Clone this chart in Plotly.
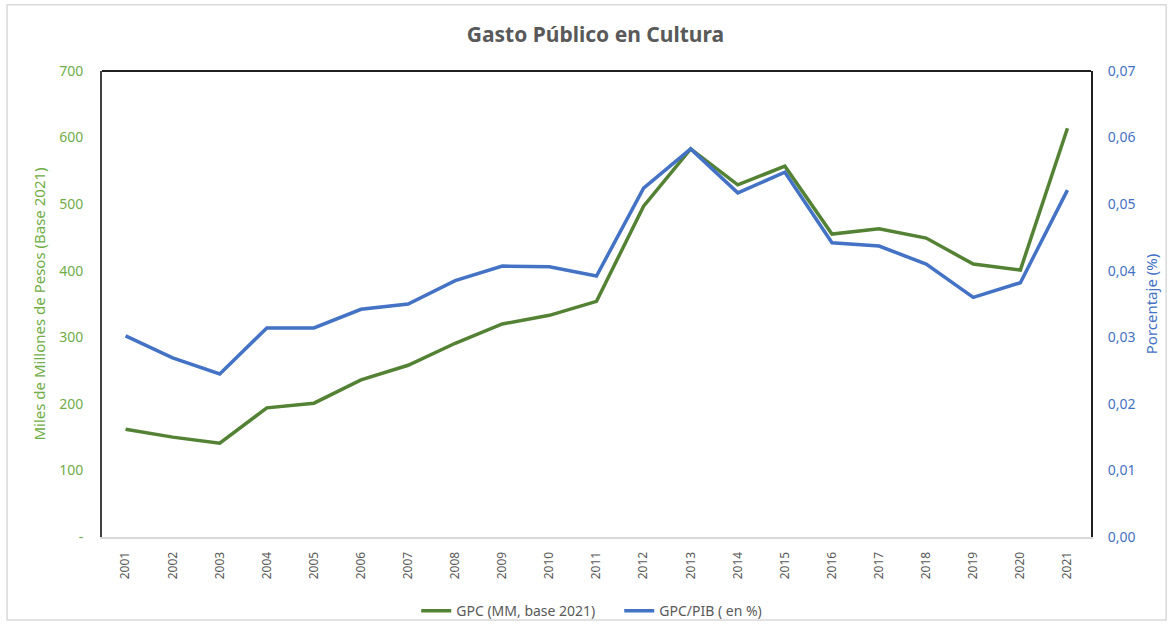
import plotly.graph_objects as go

# data
years = [str(y) for y in range(2001, 2022)]
gpc_mm = [162, 150, 141, 194, 201, 236, 258, 291, 320, 333, 354,
          497, 583, 529, 557, 455, 463, 449, 410, 401, 614]
gpc_pib = [0.0302, 0.0269, 0.0245, 0.0314, 0.0314, 0.0342, 0.0350, 0.0385, 0.0407, 0.0406, 0.0392,
           0.0524, 0.0583, 0.0517, 0.0548, 0.0442, 0.0437, 0.0410, 0.0360, 0.0382, 0.0521]

left_ticks = [0, 100, 200, 300, 400, 500, 600, 700]
left_labels = ["-", "100", "200", "300", "400", "500", "600", "700"]
right_ticks = [0, 0.01, 0.02, 0.03, 0.04, 0.05, 0.06, 0.07]
right_labels = ["0,00", "0,01", "0,02", "0,03", "0,04", "0,05", "0,06", "0,07"]

green_line = "#548235"
green_txt = "#70AD47"
blue_line = "#4472C4"
gray = "#595959"
font = "Noto Sans"
clear = "rgba(0,0,0,0)"

fig = go.Figure()
fig.add_trace(go.Scatter(x=years, y=gpc_mm, mode="lines", name="GPC (MM, base 2021)",
                         line=dict(color=green_line, width=3.5)))
fig.add_trace(go.Scatter(x=years, y=gpc_pib, mode="lines", name="GPC/PIB ( en %)",
                         line=dict(color=blue_line, width=3.5), yaxis="y2"))

fig.update_layout(
    width=1172, height=626,
    margin=dict(l=102, r=81, t=71, b=89, autoexpand=False),
    paper_bgcolor="white", plot_bgcolor="white",
    font=dict(family=font, color=gray, size=12),
    title=dict(text="<b>Gasto Público en Cultura</b>", x=0.508, xanchor="center",
               y=0.945, yanchor="middle", font=dict(size=21, color=gray)),
    xaxis=dict(type="category", range=[-0.5, 20.5], tickangle=-90, showgrid=False,
               ticks="outside", ticklen=8, tickcolor=clear, automargin=False,
               showline=True, linecolor="#d9d9d9", linewidth=2,
               tickfont=dict(size=12, color=gray)),
    yaxis=dict(range=[0, 700], tickvals=left_ticks, ticktext=left_labels, automargin=False,
               showgrid=False, zeroline=False, showline=True, linecolor="#404040", linewidth=2,
               ticks="outside", ticklen=14, tickcolor=clear, tickfont=dict(size=14, color=green_txt),
               title=dict(text="Miles de Millones de Pesos (Base 2021)",
                          font=dict(size=15, color=green_txt), standoff=10)),
    yaxis2=dict(range=[0, 0.07], tickvals=right_ticks, ticktext=right_labels, automargin=False,
                overlaying="y", side="right", showgrid=False, zeroline=False,
                showline=True, linecolor="#202020", linewidth=2,
                ticks="outside", ticklen=12, tickcolor=clear,
                tickfont=dict(size=14, color=blue_line),
                title=dict(text="Porcentaje (%)", font=dict(size=15, color=blue_line), standoff=12)),
    legend=dict(orientation="h", x=0.523, xanchor="center", y=-0.125, yanchor="top",
                bgcolor=clear, entrywidth=158, font=dict(size=14, color=gray)),
    shapes=[
        dict(type="line", xref="paper", yref="paper", x0=0, x1=1, y0=1, y1=1,
             line=dict(color="#202020", width=2)),
        dict(type="rect", xref="paper", yref="paper", x0=-0.096, x1=1.076, y0=-0.178, y1=1.142,
             line=dict(color="#d9d9d9", width=1.5), layer="below"),
    ],
)

fig.write_html("out.html", config={"displayModeBar": False},
               post_script="document.body.style.margin='0';")
